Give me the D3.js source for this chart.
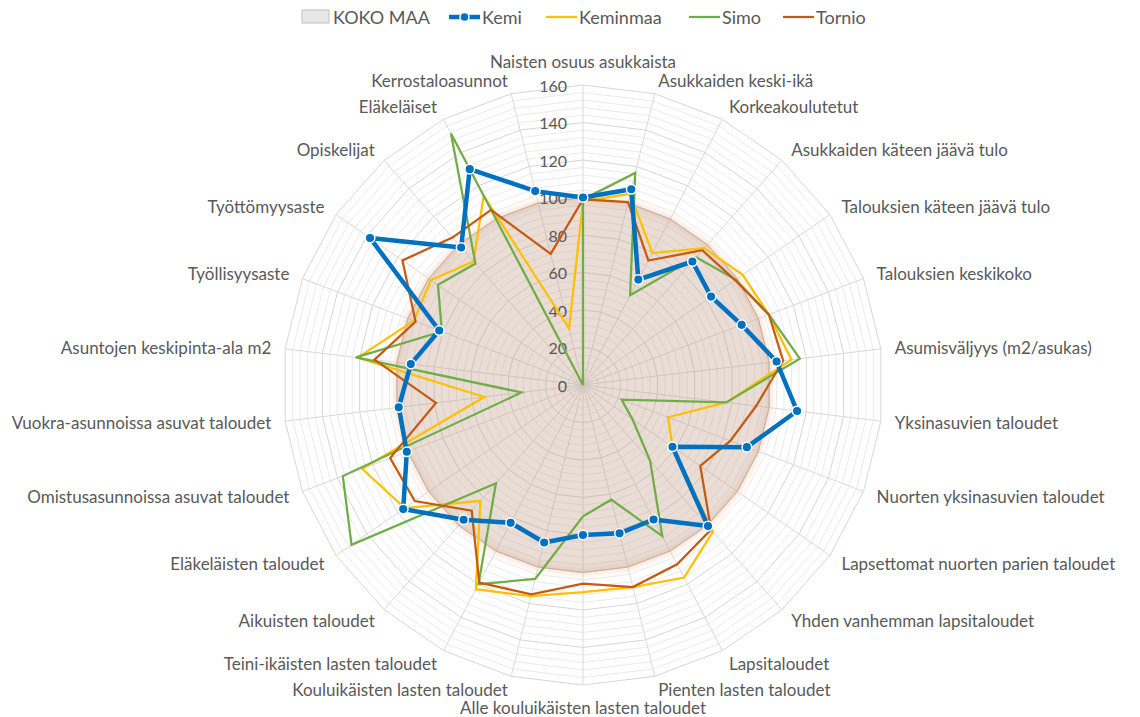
<!DOCTYPE html>
<html>
<head>
<meta charset="utf-8">
<script src="https://cdn.jsdelivr.net/npm/d3@7"></script>
<style>
  body { margin: 0; background: #fff; }
  text { font-family: Lato, "Liberation Sans", sans-serif; fill: #595959; }
</style>
</head>
<body>
<div id="chart"></div>
<script>
// axis labels, clockwise from the top
var axes = ["Naisten osuus asukkaista", "Asukkaiden keski-ikä", "Korkeakoulutetut",
  "Asukkaiden käteen jäävä tulo", "Talouksien käteen jäävä tulo", "Talouksien keskikoko",
  "Asumisväljyys (m2/asukas)", "Yksinasuvien taloudet", "Nuorten yksinasuvien taloudet",
  "Lapsettomat nuorten parien taloudet", "Yhden vanhemman lapsitaloudet", "Lapsitaloudet",
  "Pienten lasten taloudet", "Alle kouluikäisten lasten taloudet", "Kouluikäisten lasten taloudet",
  "Teini-ikäisten lasten taloudet", "Aikuisten taloudet", "Eläkeläisten taloudet",
  "Omistusasunnoissa asuvat taloudet", "Vuokra-asunnoissa asuvat taloudet",
  "Asuntojen keskipinta-ala m2", "Työllisyysaste", "Työttömyysaste", "Opiskelijat",
  "Eläkeläiset", "Kerrostaloasunnot"]

var kokoMaa  = [100,100,100,100,100,100,100,100,100,100,100,100,100,100,100,100,100,100,100,100,100,100,100,100,100,100]
var kemi     = [100,107.5,63.5,88,83,90.5,104,115,93.5,58,100.5,81,81.5,80,86.5,83,96,116.5,100.5,99,92.5,82,138,98,130,106.5]
var keminmaa = [98,105,79.5,97.5,103.5,106,112,77,48.5,58,104.5,116,111,110.5,116,123,82.5,115.5,126,53,121,96.5,98.5,88,114,31]
var simo     = [99,116.5,54,91,99,106,116.5,77,22,32,54,91,63,70,106.5,120,70,150,137,33,122,80.5,94,86.5,151.5,0]
var tornio   = [99,100.5,75,96,98.5,106,107.5,93,84,76,103,108,111,106,115,119,89.5,109,110,79,112,95.5,117,105,105.5,72]

var ticks = [0,20,40,60,80,100,120,140,160]
var minorTicks = [4,8,12,16,24,28,32,36,44,48,52,56,64,68,72,76,84,88,92,96,104,108,112,116,124,128,132,136,144,148,152,156]

var width = 1140
var height = 717
var cx = 583, cy = 385
var R = 300

var svg = d3.select("#chart").append("svg")
    .attr("width", width)
    .attr("height", height)

var defs = svg.append("defs")
defs.append("filter").attr("id", "glow")
    .attr("x", "-20%").attr("y", "-20%").attr("width", "140%").attr("height", "140%")
  .append("feGaussianBlur").attr("stdDeviation", 2.5)

var g = svg.append("g").attr("transform", "translate(" + cx + "," + cy + ")")

var r = d3.scaleLinear().domain([0, 160]).range([0, R])
var angle = d3.scaleLinear().domain([0, axes.length]).range([0, 2 * Math.PI])

function ring(v) {
  return axes.map(function() { return v })
}

var line = d3.lineRadial()
    .angle(function(d, i) { return angle(i) })
    .radius(function(d) { return r(d) })
    .curve(d3.curveLinearClosed)

// gridlines
g.selectAll(".minor").data(minorTicks).enter().append("path")
    .attr("d", function(v) { return line(ring(v)) })
    .attr("fill", "none").attr("stroke", "#ebebeb").attr("stroke-width", 1)
g.selectAll(".major").data(ticks.slice(1)).enter().append("path")
    .attr("d", function(v) { return line(ring(v)) })
    .attr("fill", "none").attr("stroke", "#d6d6d6").attr("stroke-width", 1)
g.selectAll(".spoke").data(axes).enter().append("line")
    .attr("x1", 0).attr("y1", 0)
    .attr("x2", function(d, i) { return r(160) * Math.sin(angle(i)) })
    .attr("y2", function(d, i) { return -r(160) * Math.cos(angle(i)) })
    .attr("stroke", "#d9d9d9").attr("stroke-width", 1)

// KOKO MAA area
g.append("path")
    .attr("d", line(kokoMaa))
    .attr("fill", "none").attr("stroke", "#f8cbad").attr("stroke-width", 6)
    .attr("opacity", 0.55).attr("filter", "url(#glow)")
g.append("path")
    .attr("d", line(kokoMaa))
    .attr("fill", "#bf9c88").attr("fill-opacity", 0.34)
    .attr("stroke", "#bdb1aa").attr("stroke-width", 1)

// tick labels
g.selectAll(".tick").data(ticks).enter().append("text")
    .attr("x", -16)
    .attr("y", function(d) { return -r(d) })
    .attr("text-anchor", "end")
    .attr("dominant-baseline", "central")
    .style("font-size", "16px")
    .text(function(d) { return d })

// axis labels
g.selectAll(".label").data(axes).enter().append("text")
    .attr("x", function(d, i) { return (R + 14) * Math.sin(angle(i)) })
    .attr("y", function(d, i) {
      var y = -(R + 14) * Math.cos(angle(i))
      if (i == 0) return y - 10
      if (i == 13) return y + 8
      return y
    })
    .attr("text-anchor", function(d, i) {
      if (i == 0 || i == 13) return "middle"
      return i < 13 ? "start" : "end"
    })
    .attr("dominant-baseline", "central")
    .style("font-size", "17px")
    .text(function(d) { return d })

// series lines
var series = [
  {name: "Keminmaa", data: keminmaa, color: "#ffc000"},
  {name: "Simo", data: simo, color: "#70ad47"},
  {name: "Tornio", data: tornio, color: "#c55a11"}
]
series.forEach(function(s) {
  g.append("path")
      .attr("d", line(s.data))
      .attr("fill", "none")
      .attr("stroke", s.color)
      .attr("stroke-width", 2.25)
      .attr("stroke-linejoin", "miter")
})

g.append("path")
    .attr("d", line(kemi))
    .attr("fill", "none")
    .attr("stroke", "#0070c0")
    .attr("stroke-width", 4.5)
    .attr("stroke-linejoin", "round")

g.selectAll(".dot").data(kemi).enter().append("circle")
    .attr("cx", function(d, i) { return r(d) * Math.sin(angle(i)) })
    .attr("cy", function(d, i) { return -r(d) * Math.cos(angle(i)) })
    .attr("r", 4.8)
    .attr("fill", "#0070c0")
    .attr("stroke", "#fff")
    .attr("stroke-width", 1.5)

// legend
var leg = svg.append("g").attr("transform", "translate(0,17)")
leg.append("rect").attr("x", 302).attr("y", -7).attr("width", 27).attr("height", 13)
    .attr("fill", "#e9e8e8").attr("stroke", "#bfbfbf").attr("stroke-width", 1)
leg.append("text").attr("x", 333).attr("dominant-baseline", "central")
    .style("font-size", "18px").text("KOKO MAA")

var legItems = [
  {name: "Kemi", color: "#0070c0", x: 449, w: 4.5},
  {name: "Keminmaa", color: "#ffc000", x: 546, w: 2.25},
  {name: "Simo", color: "#70ad47", x: 689, w: 2.25},
  {name: "Tornio", color: "#c55a11", x: 783, w: 2.25}
]
legItems.forEach(function(d) {
  leg.append("line").attr("x1", d.x).attr("x2", d.x + 31).attr("y1", 0).attr("y2", 0)
      .attr("stroke", d.color).attr("stroke-width", d.w)
  if (d.name == "Kemi") {
    leg.append("circle").attr("cx", d.x + 15.5).attr("cy", 0).attr("r", 4.5)
        .attr("fill", d.color).attr("stroke", "#fff").attr("stroke-width", 1.5)
  }
  leg.append("text").attr("x", d.x + 33).attr("dominant-baseline", "central")
      .style("font-size", "18px").text(d.name)
})
</script>
</body>
</html>
